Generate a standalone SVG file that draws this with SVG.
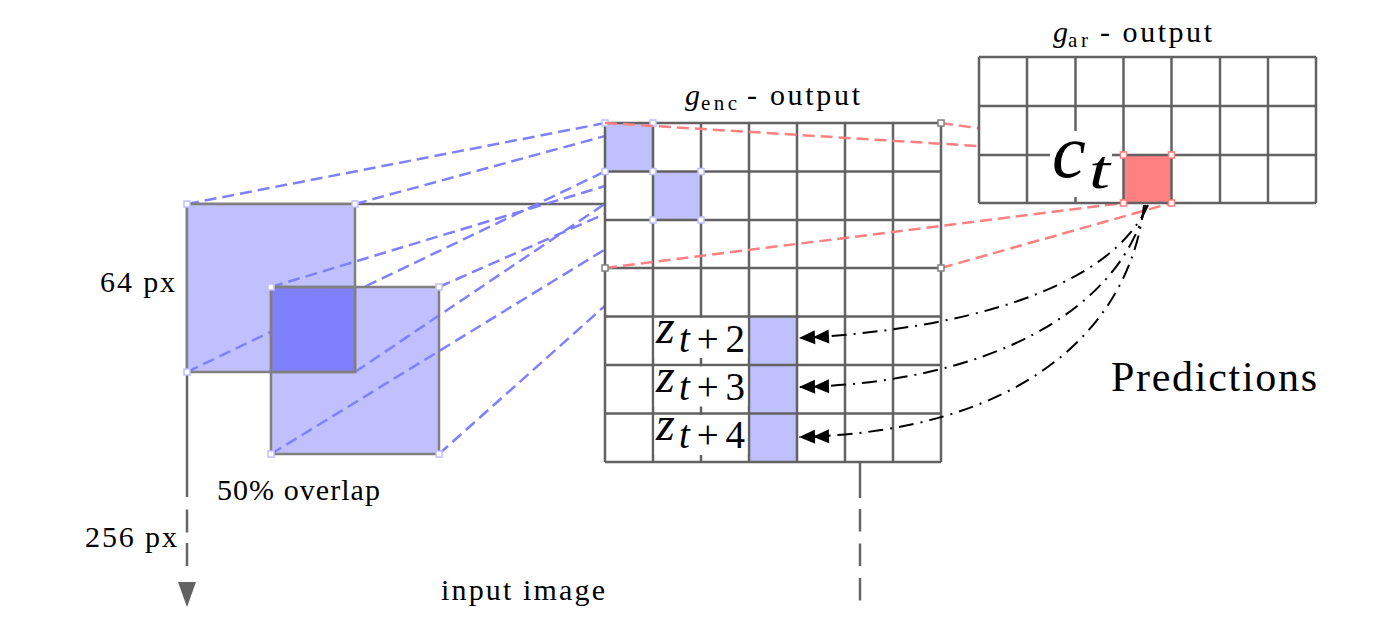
<svg xmlns="http://www.w3.org/2000/svg" width="1390" height="644" viewBox="0 0 1390 644">
<defs>
<marker id="dbl" markerUnits="userSpaceOnUse" markerWidth="34" markerHeight="18" viewBox="0 0 34 18" refX="32" refY="9" orient="auto"><path d="M32 9L16 2V16Z M18 9L2 2V16Z" fill="#000"/></marker>
<rect id="mk" x="-3" y="-3" width="6" height="6"/>
</defs>
<rect width="1390" height="644" fill="#fff"/>

<g id="input-image" fill="none" stroke="#666" stroke-width="2.5">
<path d="M187 204V497 M187 204H605"/>
<path d="M187 509.5V570" stroke-dasharray="23 10.5"/>
<path d="M860 462V498"/>
<path d="M860 509V601" stroke-dasharray="22.5 12"/>
<polygon points="178,582 196,582 187,607" fill="#626262" stroke="none"/>
</g>

<g id="patch-1">
<rect x="187" y="204" width="168" height="168" fill="#c0c0ff"/>
</g>
<g id="connectors-blue-a" fill="none" stroke="#8080ff" stroke-width="2.5" stroke-dasharray="12 6">
<path d="M187 204L605 123 M187 372L605 171.5"/>
</g>
<g id="patch-2">
<rect x="271" y="287" width="168" height="167" fill="#c0c0ff"/>
<rect x="271" y="287" width="84" height="85" fill="#8080ff"/>
</g>
<g id="connectors-blue-b" fill="none" stroke="#8080ff" stroke-width="2.5" stroke-dasharray="12 6">
<path d="M355 204L653 123 M355 372L653 171.5 M271 287L653 171.5 M439 287L701 171.5 M271 454L653 220 M439 454L701 220"/>
</g>
<g id="patch-outlines" fill="none" stroke="#808080" stroke-width="2.5">
<rect x="187" y="204" width="168" height="168"/>
<rect x="271" y="287" width="168" height="167"/>
<rect x="271" y="287" width="84" height="85"/>
</g>
<g id="patch-markers" fill="#fff" stroke="#c0c0ff" stroke-width="1.5">
<use href="#mk" x="187" y="204"/>
<use href="#mk" x="355" y="204"/>
<use href="#mk" x="187" y="372"/>
<use href="#mk" x="271" y="287"/>
<use href="#mk" x="439" y="287"/>
<use href="#mk" x="271" y="454"/>
<use href="#mk" x="439" y="454"/>
</g>

<g id="genc-grid">
<rect x="605" y="123" width="336" height="339" fill="#fff"/>
<rect x="605" y="123" width="48" height="48.5" fill="#c0c0ff"/>
<rect x="653" y="171.5" width="48" height="48.5" fill="#c0c0ff"/>
<rect x="749" y="316.5" width="48" height="145.5" fill="#c0c0ff"/>
<path fill="none" stroke="#626262" stroke-width="2.5" d="M605 123V462 M653 123V462 M701 123V462 M749 123V462 M797 123V462 M845 123V462 M893 123V462 M941 123V462 M605 123H941 M605 171.5H941 M605 220H941 M605 268H941 M605 316.5H941 M605 365H941 M605 413.5H941 M605 462H941"/>
</g>
<g id="z-t2">
<rect x="654.5" y="318" width="93" height="40" fill="#fff"/>
<text x="656" y="343" font-size="48" font-family="Liberation Serif" font-style="italic">z</text>
<text x="679" y="352" font-size="39" font-family="Liberation Serif" textLength="66" lengthAdjust="spacing"><tspan font-style="italic">t</tspan>+2</text>
</g>
<g id="z-t3">
<rect x="654.5" y="366.5" width="93" height="40" fill="#fff"/>
<text x="656" y="391.5" font-size="48" font-family="Liberation Serif" font-style="italic">z</text>
<text x="679" y="400" font-size="39" font-family="Liberation Serif" textLength="66" lengthAdjust="spacing"><tspan font-style="italic">t</tspan>+3</text>
</g>
<g id="z-t4">
<rect x="654.5" y="415" width="93" height="40" fill="#fff"/>
<text x="656" y="440" font-size="48" font-family="Liberation Serif" font-style="italic">z</text>
<text x="679" y="448" font-size="39" font-family="Liberation Serif" textLength="66" lengthAdjust="spacing"><tspan font-style="italic">t</tspan>+4</text>
</g>
<g id="genc-markers" fill="#fff" stroke="#c0c0ff" stroke-width="1.5">
<use href="#mk" x="605" y="123"/>
<use href="#mk" x="653" y="123"/>
<use href="#mk" x="605" y="171.5"/>
<use href="#mk" x="653" y="171.5"/>
<use href="#mk" x="701" y="171.5"/>
<use href="#mk" x="653" y="220"/>
<use href="#mk" x="701" y="220"/>
</g>
<g id="genc-label">
<text x="685" y="105" font-size="30" font-family="Liberation Serif" font-style="italic">g</text>
<text x="701" y="110" font-size="21" font-family="Liberation Serif" textLength="36" lengthAdjust="spacing">enc</text>
<text x="747" y="105" font-size="30" font-family="Liberation Serif" textLength="113" lengthAdjust="spacing">- output</text>
</g>

<g id="connectors-red">
<path fill="none" stroke="#ff8080" stroke-width="2.5" stroke-dasharray="12 6" d="M605 123L1123.5 155 M941 123L1171.5 155 M605 268L1123.5 203 M941 268L1171.5 203"/>
<g fill="#fff" stroke="#808080" stroke-width="1.5">
<use href="#mk" x="941" y="123"/>
<use href="#mk" x="605" y="268"/>
<use href="#mk" x="941" y="268"/>
</g>
</g>

<g id="gar-grid">
<rect x="979" y="57" width="337" height="146" fill="#fff"/>
<rect x="1123.5" y="155" width="48" height="48" fill="#ff8080"/>
<path fill="none" stroke="#626262" stroke-width="2.5" d="M979 57V203 M1027 57V203 M1075.5 57V203 M1123.5 57V203 M1171.5 57V203 M1220 57V203 M1268 57V203 M1316 57V203 M979 57H1316 M979 106H1316 M979 155H1316 M979 203H1316"/>
<rect x="1050" y="131" width="62" height="66" fill="#fff"/>
<text x="1052" y="177" font-size="76" font-family="Liberation Serif" font-style="italic">c</text>
<text x="1089" y="188" font-size="54" font-family="Liberation Serif" font-style="italic" textLength="21" lengthAdjust="spacingAndGlyphs">t</text>
<g fill="#fff" stroke="#ff8080" stroke-width="1.5">
<use href="#mk" x="1123.5" y="155"/>
<use href="#mk" x="1171.5" y="155"/>
<use href="#mk" x="1123.5" y="203"/>
<use href="#mk" x="1171.5" y="203"/>
</g>
</g>
<g id="gar-label">
<text x="1053" y="42" font-size="30" font-family="Liberation Serif" font-style="italic">g</text>
<text x="1068" y="47" font-size="21" font-family="Liberation Serif" textLength="20" lengthAdjust="spacing">ar</text>
<text x="1100" y="42" font-size="30" font-family="Liberation Serif" textLength="112" lengthAdjust="spacing">- output</text>
</g>

<g id="connectors-pred" fill="none" stroke="#000" stroke-width="2" stroke-dasharray="15 7 2 7">
<path d="M1148 205C1110 290 960 330 799 338" marker-end="url(#dbl)"/>
<path d="M1146 205C1120 310 990 383 799 387" marker-end="url(#dbl)"/>
<path d="M1144 205C1130 330 1020 432 799 437" marker-end="url(#dbl)"/>
</g>

<g id="labels">
<text x="100" y="292" font-size="30" font-family="Liberation Serif" textLength="75" lengthAdjust="spacing">64 px</text>
<text x="85" y="547" font-size="30" font-family="Liberation Serif" textLength="92" lengthAdjust="spacing">256 px</text>
<text x="217" y="500" font-size="30" font-family="Liberation Serif" textLength="163" lengthAdjust="spacing">50% overlap</text>
<text x="441" y="600" font-size="30" font-family="Liberation Serif" textLength="164" lengthAdjust="spacing">input image</text>
<text x="1111" y="391" font-size="42" font-family="Liberation Serif" textLength="206" lengthAdjust="spacing">Predictions</text>
</g>
</svg>
